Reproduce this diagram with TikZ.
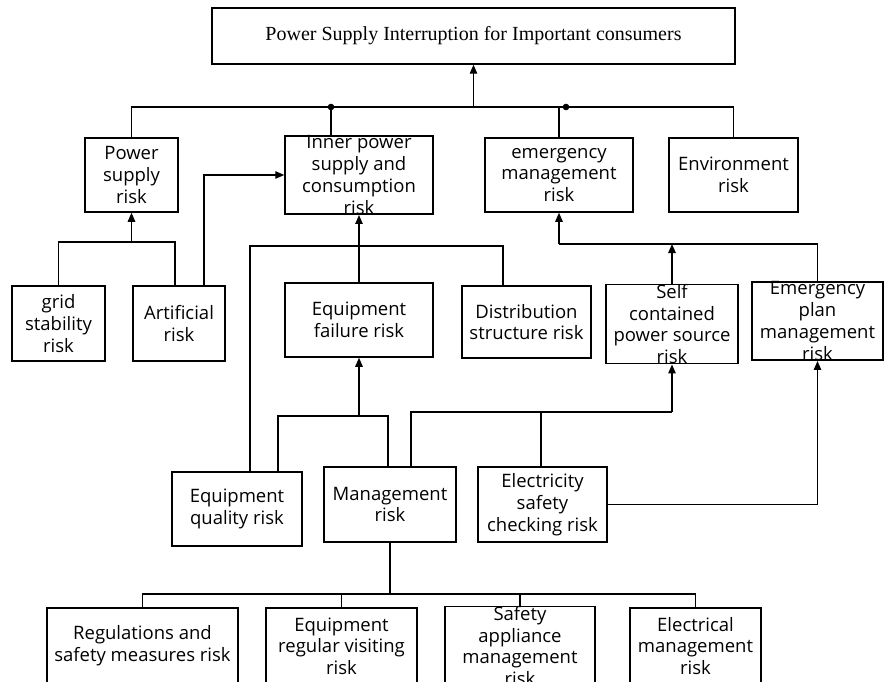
\documentclass[tikz,border=0pt]{standalone}
\usepackage{fontspec}
\setmainfont{Liberation Serif}
\newfontfamily\boxfont{Open Sans}
\usetikzlibrary{arrows.meta}
\begin{document}
\begin{tikzpicture}[x=1pt,y=-1pt,
  box/.style={draw, line width=1.5pt, inner sep=0pt, align=center,
    font=\boxfont\fontsize{18.5}{21.7}\selectfont},
  link/.style={line width=1.2pt},
  arr/.style={link, -{Triangle[length=9pt,width=7.5pt]}}]
\useasboundingbox (0,0) rectangle (884,682);
\clip (0,0) rectangle (884,682);
\fill[white] (0,0) rectangle (884,682);

% boxes
\node[box, minimum width=523pt, minimum height=56pt, font=\rmfamily\fontsize{20}{24}\selectfont] (top) at (473.5,36) {Power Supply Interruption for Important consumers};
\node[box, minimum width=93pt, minimum height=74pt] (psr) at (131.5,175) {Power\\supply\\risk};
\node[box, minimum width=148pt, minimum height=74pt] (inner) at (359,175) {Inner power\\supply and\\consumption\\risk};
\node[box, minimum width=148pt, minimum height=74pt] (emg) at (559,175) {emergency\\management\\risk};
\node[box, minimum width=129pt, minimum height=74pt] (env) at (733.5,175) {Environment\\risk};

\node[box, minimum width=93pt, minimum height=75pt] (grid) at (58.5,323.5) {grid\\stability\\risk};
\node[box, minimum width=92pt, minimum height=75pt] (art) at (179,323.5) {Artificial\\risk};
\node[box, minimum width=148pt, minimum height=74pt] (eqf) at (359,320) {Equipment\\failure risk};
\node[box, minimum width=129pt, minimum height=72pt] (dist) at (526.5,322) {Distribution\\structure risk};
\node[box, minimum width=132pt, minimum height=74pt] (self) at (672,324) {Self\\contained\\power source\\risk};
\node[box, minimum width=131pt, minimum height=74pt] (plan) at (817.5,321) {Emergency\\plan\\management\\risk};

\node[box, minimum width=130pt, minimum height=74pt] (eqq) at (237,509) {Equipment\\quality risk};
\node[box, minimum width=132pt, minimum height=75pt] (mgmt) at (390,504.5) {Management\\risk};
\node[box, minimum width=129pt, minimum height=75pt] (elec) at (542.5,504.5) {Electricity\\safety\\checking risk};

\node[box, minimum width=191pt, minimum height=76pt] (reg) at (142.5,646) {Regulations and\\safety measures risk};
\node[box, minimum width=151pt, minimum height=76pt] (visit) at (341.5,646) {Equipment\\regular visiting\\risk};
\node[box, minimum width=150pt, minimum height=76pt] (safe) at (520,646) {Safety\\appliance\\management\\risk};
\node[box, minimum width=131pt, minimum height=76pt] (elecm) at (695.5,646) {Electrical\\management\\risk};

% top level bus
\coordinate (bus) at (473.5,107);
\draw[link] (psr.north) |- (bus) -| (env.north);
\draw[arr] (bus) -- (top.south);
\coordinate (j1) at (331,107);
\draw[link] (j1) -- (j1 |- inner.north);
\fill (j1) circle (3.3pt);
\coordinate (j2a) at (559,107);
\coordinate (j2) at (566,107);
\draw[link] (j2a) -- (emg.north);
\fill (j2) circle (3.3pt);

% power supply risk
\coordinate (p1) at (131.5,242);
\coordinate (p2) at (175,242);
\draw[link] (grid.north) |- (p2) -- (p2 |- art.north);
\draw[arr] (p1) -- (psr.south);
\draw[arr] ([xshift=25pt]art.north) |- (inner.west);

% inner power supply
\draw[arr] (eqf.north) -- (inner.south);
\coordinate (q1) at (250,246);
\coordinate (q2) at (503,246);
\draw[link] (q1 |- eqq.north) -- (q1) -- (q2) -- (q2 |- dist.north);

% emergency management
\coordinate (e1) at (559,244);
\coordinate (e2) at (672,244);
\draw[arr] (e1) -- (emg.south);
\draw[link] (e1) -| (plan.north);
\draw[arr] (self.north) -- (e2);

% equipment failure
\coordinate (m1) at (278,416);
\coordinate (m2) at (388,416);
\coordinate (m3) at (359,416);
\draw[link] (m1 |- eqq.north) -- (m1) -- (m2) -- (m2 |- mgmt.north);
\draw[arr] (m3) -- (eqf.south);

% self contained power source
\coordinate (s1) at (411,412);
\coordinate (s2) at (672,412);
\coordinate (s3) at (541,412);
\draw[link] (s1 |- mgmt.north) -- (s1) -- (s2);
\draw[arr] (s2) -- (self.south);
\draw[link] (s3) -- (s3 |- elec.north);
\draw[arr] (elec.east) -| (plan.south);

% management sub-risks
\coordinate (t1) at (390,594);
\draw[line width=1.8pt] (mgmt.south) -- (t1);
\draw[link] (reg.north) |- (t1) -| (elecm.north);
\draw[link] (visit.north) -- (visit.north |- t1);
\draw[link] (safe.north) -- (safe.north |- t1);
\end{tikzpicture}
\end{document}
